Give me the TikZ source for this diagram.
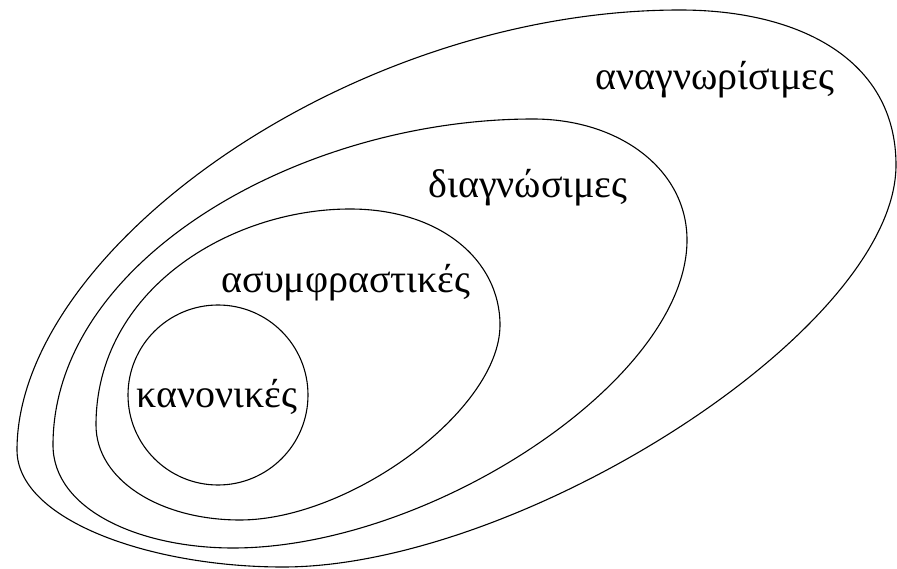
\documentclass[tikz,border=0pt]{standalone}
\usepackage{fontspec}
\setmainfont{Liberation Serif}
\begin{document}
\begin{tikzpicture}[x=1pt,y=-1pt,
  contour/.style={draw=black,line width=1.1pt},
  lbl/.style={inner sep=0pt,font=\fontsize{40}{44}\selectfont}]
\useasboundingbox[fill=white] (0,0) rectangle (897,569);
% outer: anagnorisimes
\draw[contour] (17,450) .. controls (17,250) and (350,10) .. (680,10)
  .. controls (800,10) and (896,60) .. (896,165)
  .. controls (896,330) and (520,567) .. (283,567)
  .. controls (150,567) and (17,520) .. cycle;
% diagnosimes
\draw[contour] (53,445) .. controls (53,260) and (300,119) .. (533,119)
  .. controls (620,119) and (687,170) .. (687,240)
  .. controls (687,380) and (430,548) .. (233,548)
  .. controls (140,548) and (53,510) .. cycle;
% asymfrastikes
\draw[contour] (96,425) .. controls (96,290) and (230,209) .. (350,209)
  .. controls (440,209) and (500,260) .. (500,325)
  .. controls (500,410) and (350,520) .. (240,520)
  .. controls (160,520) and (96,480) .. cycle;
% kanonikes
\draw[contour] (218,395) circle[radius=90];
\node[lbl] (a) at (715,80) {αναγνωρίσιμες};
\node[lbl] (d) at (528,188) {διαγνώσιμες};
\node[lbl] (s) at (346,283) {ασυμφραστικές};
\node[lbl] (k) at (217,397) {κανονικές};
\end{tikzpicture}
\end{document}
